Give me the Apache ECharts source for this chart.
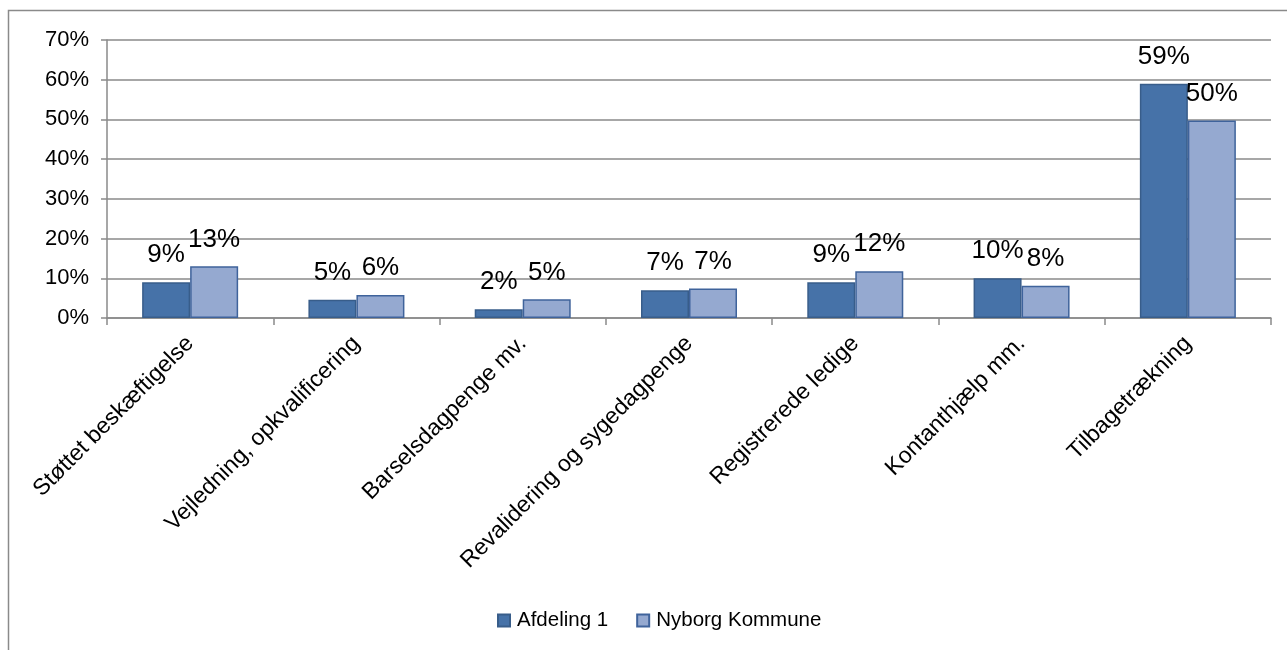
<!DOCTYPE html>
<html>
<head>
<meta charset="utf-8">
<script src="https://cdn.jsdelivr.net/npm/echarts@6/dist/echarts.min.js"></script>
<style>
html,body{margin:0;padding:0;background:#fff;}
#chart{width:1287px;height:650px;}
</style>
</head>
<body>
<div id="chart"></div>
<script>
const categories = ['Støttet beskæftigelse','Vejledning, opkvalificering','Barselsdagpenge mv.','Revalidering og sygedagpenge','Registrerede ledige','Kontanthjælp mm.','Tilbagetrækning'];
const afdeling = [9.0, 4.6, 2.2, 7.0, 9.0, 10.0, 59.0];
const nyborg = [13.0, 5.8, 4.7, 7.4, 11.8, 8.1, 49.7];
const seriesNames = ['Afdeling 1','Nyborg Kommune'];
const yTicks = [0,10,20,30,40,50,60,70];

const font = 'Liberation Sans, Arial, sans-serif';
const chart = echarts.init(document.getElementById('chart'), null, {renderer:'canvas'});
function lbl(){
  return {show:true, position:'top', distance:14, fontSize:26, color:'#000', fontFamily:font,
    formatter: p => Math.round(p.value) + '%'};
}
chart.setOption({
  animation:false,
  graphic:[{type:'rect', shape:{x:8.5,y:10.5,width:1400,height:800}, style:{fill:'none', stroke:'#8a8a8a', lineWidth:1.5}, silent:true}],
  grid:{left:107, right:16, top:40, bottom:332, containLabel:false},
  legend:{bottom:14, left:492, itemWidth:12, itemHeight:12, itemGap:28, icon:'rect',
    textStyle:{fontSize:20.5, color:'#000', fontFamily:font, padding:[0,0,0,2]},
    data:seriesNames},
  xAxis:{type:'category', data:categories,
    axisLine:{lineStyle:{color:'#8a8a8a', width:1.5}},
    axisTick:{show:true, alignWithLabel:false, length:7, lineStyle:{color:'#8a8a8a', width:1.5}},
    axisLabel:{rotate:45, fontSize:23, color:'#000', fontFamily:font, margin:22, interval:0}},
  yAxis:{type:'value', min:0, max:70, interval:10,
    axisLine:{show:true, lineStyle:{color:'#8a8a8a', width:1.5}},
    axisTick:{show:true, length:6, lineStyle:{color:'#8a8a8a', width:1.5}},
    splitLine:{lineStyle:{color:'#8a8a8a', width:1.5}},
    axisLabel:{fontSize:22, color:'#000', fontFamily:font, margin:18, formatter:v=>v+'%'}},
  series:[
    {name:seriesNames[0], type:'bar', data:afdeling, barWidth:48, barGap:'0%',
      itemStyle:{color:'#4672A8', borderColor:'#385D8A', borderWidth:1.5}, label:lbl()},
    {name:seriesNames[1], type:'bar', data:nyborg, barWidth:48,
      itemStyle:{color:'#95A9D0', borderColor:'#3F639B', borderWidth:1.5}, label:lbl()}
  ]
});
</script>
</body>
</html>
